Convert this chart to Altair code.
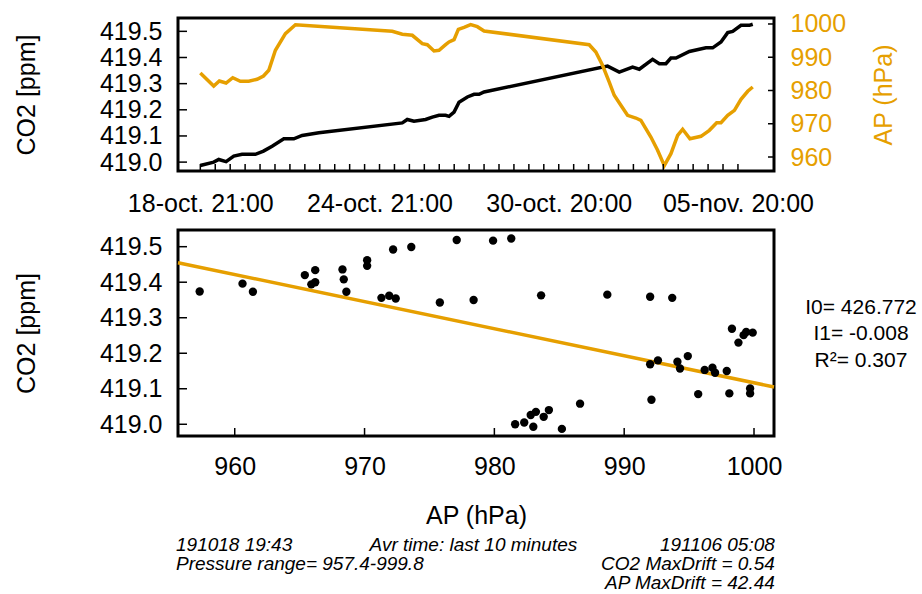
import json
import altair as alt
import pandas as pd

# ---------------- data ----------------
# top panel: time axis in "day of October" (continuous days)
days_co2 = [18.875, 19.324, 19.492, 19.737, 19.995, 20.273, 20.719, 20.990, 21.279, 21.671,
            22.006, 22.284, 22.844, 25.637, 25.804, 26.029, 26.418, 26.642, 26.867, 27.088,
            27.202, 27.370, 27.537, 27.816, 28.040, 28.208, 28.375, 32.509, 32.901, 33.347,
            33.572, 34.017, 34.242, 34.463, 34.631, 34.799, 35.248, 35.804, 36.029, 36.307,
            36.532, 36.699, 36.977, 37.259, 37.370]
co2_ts = [418.987, 419.000, 419.010, 419.002, 419.023, 419.030, 419.030, 419.042, 419.061, 419.089,
          419.089, 419.102, 419.112, 419.150, 419.163, 419.156, 419.163, 419.172, 419.179, 419.179,
          419.175, 419.191, 419.229, 419.249, 419.259, 419.259, 419.268, 419.367, 419.344, 419.363,
          419.355, 419.393, 419.376, 419.376, 419.398, 419.398, 419.423, 419.437, 419.437, 419.459,
          419.495, 419.500, 419.523, 419.523, 419.527]

days_ap = [18.875, 19.324, 19.512, 19.737, 19.961, 20.216, 20.497, 20.776, 20.990, 21.168,
           21.389, 21.724, 22.060, 25.302, 25.637, 25.972, 26.307, 26.475, 26.699, 26.867,
           27.088, 27.202, 27.370, 27.514, 27.705, 27.926, 28.150, 28.375, 31.895, 32.117,
           32.341, 32.566, 32.733, 32.955, 33.179, 33.457, 33.625, 33.960, 34.185, 34.410,
           34.631, 34.856, 35.023, 35.268, 35.637, 35.918, 36.163, 36.307, 36.532, 36.757,
           36.977, 37.202, 37.370]
ap_ts = [985.26, 981.35, 982.85, 982.25, 983.85, 982.76, 982.76, 983.37, 984.36, 986.07,
         992.09, 997.08, 999.79, 997.80, 996.90, 996.60, 994.07, 993.77, 991.88, 992.09,
         993.77, 994.59, 995.28, 998.41, 999.01, 999.80, 999.19, 997.89, 993.77, 991.58,
         987.58, 982.55, 978.55, 975.54, 972.54, 971.72, 971.03, 966.01, 962.01, 957.40,
         960.99, 966.52, 968.33, 965.50, 966.22, 968.03, 970.31, 970.31, 972.54, 974.04,
         977.35, 979.76, 981.05]

time_tick_days = [18.875 + 0.5 * k for k in range(37)]
time_label_days = [18.875, 24.875, 30.875, 36.875]
time_labels = ["18-oct. 21:00", "24-oct. 21:00", "30-oct. 20:00", "05-nov. 20:00"]

co2_ticks = [419.0, 419.1, 419.2, 419.3, 419.4, 419.5]
ap_ticks = [960, 970, 980, 990, 1000]

# bottom panel: scatter
ap_sc = [957.3, 960.6, 961.4, 965.4, 965.9, 966.2, 966.2, 968.3, 968.4, 968.6,
         970.2, 970.2, 971.3, 971.9, 972.4, 972.2, 973.6, 975.8, 977.1, 979.9,
         981.3, 978.4, 983.6, 988.7, 992.0, 993.7, 998.3, 998.8, 999.2, 999.4,
         999.9, 992.0, 992.6, 994.1, 994.3, 994.9, 996.2, 996.8, 997.0, 997.9,
         992.1, 995.7, 998.1, 999.7, 999.7, 981.6, 982.3, 982.8, 983.2, 983.0,
         983.8, 984.2, 985.2, 986.6]
co2_sc = [419.374, 419.396, 419.373, 419.420, 419.394, 419.434, 419.400, 419.436, 419.408, 419.373,
          419.462, 419.446, 419.356, 419.362, 419.354, 419.492, 419.499, 419.343, 419.519, 419.517,
          419.523, 419.350, 419.363, 419.365, 419.359, 419.356, 419.269, 419.230, 419.251, 419.260,
          419.258, 419.169, 419.180, 419.176, 419.157, 419.192, 419.153, 419.159, 419.145, 419.150,
          419.069, 419.085, 419.087, 419.101, 419.087, 419.000, 419.005, 419.026, 419.035, 418.993,
          419.021, 419.040, 418.987, 419.058]

# regression line end points
ap_fit = [955.63, 1001.54]
co2_fit = [419.455, 419.105]

fit_texts = ["I0= 426.772", "I1= -0.008", "R\u00b2= 0.307"]
note_start = "191018 19:43"
note_avr = "Avr time: last 10 minutes"
note_end = "191106 05:08"
note_range = "Pressure range= 957.4-999.8"
note_co2drift = "CO2 MaxDrift = 0.54"
note_apdrift = "AP MaxDrift = 42.44"

# ---------------- styling ----------------
ORANGE = "#E69F00"
FONT = "Liberation Sans"
W = 596
H_TOP = 153
H_BOT = 206

df_co2 = pd.DataFrame({"day": days_co2, "co2": co2_ts})
df_ap = pd.DataFrame({"day": days_ap, "ap": ap_ts})
one = pd.DataFrame({"a": [0]})

x_top_scale = alt.Scale(domain=[18.128, 38.082], nice=False, zero=False)
co2_top_scale = alt.Scale(domain=[418.966, 419.551], nice=False, zero=False)
ap_top_scale = alt.Scale(domain=[955.79, 1001.8], nice=False, zero=False)

label_expr = "%s[indexof(%s, datum.value)]" % (json.dumps(time_labels), json.dumps(time_label_days))

x_top = alt.X("day:Q", scale=x_top_scale,
              axis=alt.Axis(values=time_label_days, labelExpr=label_expr, title=None,
                            labelPadding=20, labelFlush=False, labelOverlap=False))

black = alt.Chart(df_co2).mark_line(color="black", strokeWidth=3.5).encode(
    x=x_top,
    y=alt.Y("co2:Q", scale=co2_top_scale,
            axis=alt.Axis(orient="left", values=co2_ticks, format=".1f", title="CO2 [ppm]",
                          labelPadding=16, titleAngle=270, titleX=-143.7, titleY=H_TOP / 2,
                          titleAlign="center", titleBaseline="alphabetic", labelOverlap=False)))

orange = alt.Chart(df_ap).mark_line(color=ORANGE, strokeWidth=3.5).encode(
    x=x_top,
    y=alt.Y("ap:Q", scale=ap_top_scale,
            axis=alt.Axis(orient="right", values=ap_ticks, format="d", title="AP (hPa)",
                          labelColor=ORANGE, titleColor=ORANGE, labelPadding=16,
                          titleAngle=270, titleX=117.3, titleY=H_TOP / 2,
                          titleAlign="center", titleBaseline="alphabetic", labelOverlap=False)))

tick_left_top = alt.Chart(pd.DataFrame({"co2": co2_ticks})).mark_rule(color="black", strokeWidth=1.5).encode(
    y=alt.Y("co2:Q", scale=co2_top_scale, axis=None), x=alt.value(0), x2=alt.value(9))
tick_right_top = alt.Chart(pd.DataFrame({"ap": ap_ticks})).mark_rule(color="black", strokeWidth=1.5).encode(
    y=alt.Y("ap:Q", scale=ap_top_scale, axis=None), x=alt.value(W - 6), x2=alt.value(W))
tick_x_top = alt.Chart(pd.DataFrame({"day": time_tick_days})).mark_rule(color="black", strokeWidth=1.5).encode(
    x=x_top, y=alt.value(H_TOP - 7), y2=alt.value(H_TOP))
anchor_top = alt.Chart(one).mark_rule(opacity=0).encode(
    x=alt.value(-176), x2=alt.value(-176), y=alt.value(-16), y2=alt.value(H_TOP + 50))

top = alt.layer(black, orange, tick_left_top, tick_right_top, tick_x_top, anchor_top).resolve_scale(
    y="independent").properties(width=W, height=H_TOP)

# bottom
x_bot = alt.X("ap:Q", scale=alt.Scale(domain=[955.63, 1001.54], nice=False, zero=False),
              axis=alt.Axis(values=ap_ticks, format="d", title="AP (hPa)", labelPadding=18,
                            titleX=298, titleY=87, titleAlign="center", titleBaseline="alphabetic",
                            labelFlush=False, labelOverlap=False))
y_bot = alt.Y("co2:Q", scale=alt.Scale(domain=[418.967, 419.547], nice=False, zero=False),
              axis=alt.Axis(values=co2_ticks, format=".1f", title="CO2 [ppm]", labelPadding=16,
                            titleAngle=270, titleX=-143.7, titleY=H_BOT / 2,
                            titleAlign="center", titleBaseline="alphabetic", labelOverlap=False))

points = alt.Chart(pd.DataFrame({"ap": ap_sc, "co2": co2_sc})).mark_circle(
    color="black", size=70, opacity=1).encode(x=x_bot, y=y_bot)
fit = alt.Chart(pd.DataFrame({"ap": ap_fit, "co2": co2_fit})).mark_line(
    color=ORANGE, strokeWidth=3.5).encode(x=x_bot, y=y_bot)
tick_y_bot = alt.Chart(pd.DataFrame({"co2": co2_ticks})).mark_rule(color="black", strokeWidth=1.5).encode(
    y=y_bot, x=alt.value(0), x2=alt.value(9))
tick_x_bot = alt.Chart(pd.DataFrame({"ap": ap_ticks})).mark_rule(color="black", strokeWidth=1.5).encode(
    x=x_bot, y=alt.value(H_BOT - 8), y2=alt.value(H_BOT))
anchor_bot = alt.Chart(one).mark_rule(opacity=0).encode(
    x=alt.value(0), x2=alt.value(0), y=alt.value(-4), y2=alt.value(-4))


def txt(s, x, y, align, size, style="normal"):
    return alt.Chart(pd.DataFrame({"t": [s]})).mark_text(
        font=FONT, fontSize=size, fontStyle=style, align=align, baseline="alphabetic",
        color="black").encode(text="t:N", x=alt.value(x), y=alt.value(y))


NOTE_SIZE = 19
texts = [
    txt(fit_texts[0], 683, 83.5, "center", 21),
    txt(fit_texts[1], 683, 110, "center", 21),
    txt(fit_texts[2], 683, 136.5, "center", 21),
    txt(note_start, -2, 321, "left", NOTE_SIZE, "italic"),
    txt(note_avr, 191.6, 321, "left", NOTE_SIZE, "italic"),
    txt(note_end, 596.8, 321, "right", NOTE_SIZE, "italic"),
    txt(note_range, -2, 340, "left", NOTE_SIZE, "italic"),
    txt(note_co2drift, 596.8, 340, "right", NOTE_SIZE, "italic"),
    txt(note_apdrift, 596.8, 359, "right", NOTE_SIZE, "italic"),
]

bottom = alt.layer(fit, points, tick_y_bot, tick_x_bot, anchor_bot, *texts).properties(
    width=W, height=H_BOT)

chart = alt.vconcat(top, bottom, spacing=1).properties(
    padding={"left": 0, "top": 0, "right": 0, "bottom": 1}
).configure_view(stroke="black", strokeWidth=3).configure_axis(
    labelFont=FONT, titleFont=FONT, labelFontSize=25, titleFontSize=25,
    titleFontWeight="normal", labelColor="black", titleColor="black",
    domain=False, ticks=False, tickSize=0, grid=False
)

chart.save("out.html", embed_options={"renderer": "svg", "actions": False})
